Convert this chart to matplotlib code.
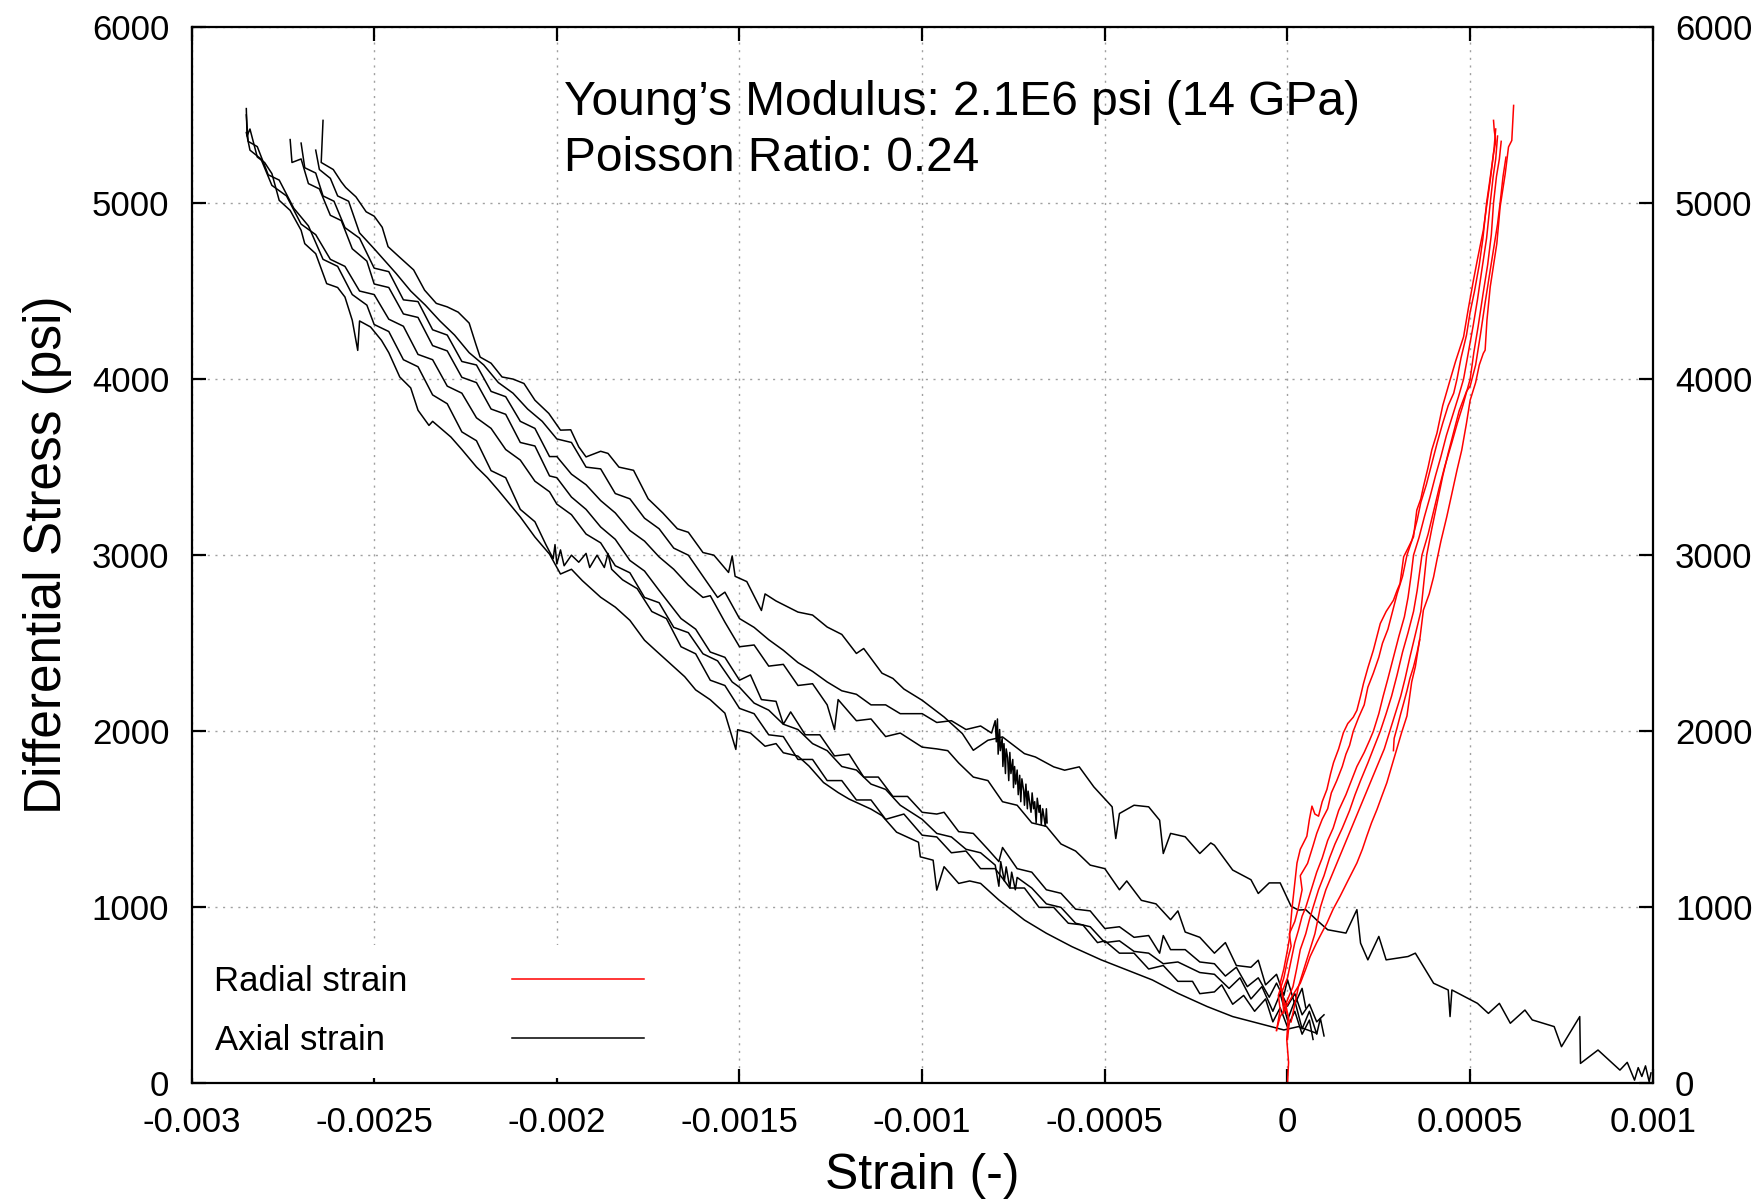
import numpy as np
import matplotlib
matplotlib.use("Agg")
import matplotlib.pyplot as plt

# --- data (strain in microstrain, stress in psi) ---

# first loading / long axial curve
axial_c0_strain = [-2640, -2645, -2612, -2590, -2578, -2550, -2522, -2500, -2478, -2462, -2432, -2392, -2362, -2330,
                   -2300, -2270, -2240, -2222, -2210, -2180, -2150, -2120, -2090, -2060, -2022, -1990, -1962, -1940,
                   -1920, -1880, -1860, -1830, -1790, -1750, -1710, -1670, -1640, -1600, -1570, -1530, -1520, -1512,
                   -1480, -1440, -1430, -1400, -1340, -1300, -1260, -1220, -1180, -1160, -1110, -1080, -1050, -1000,
                   -940, -890, -860, -820, -780, -720, -690, -640, -610, -570, -530, -480, -470, -460, -420, -380,
                   -350, -340, -320, -280, -240, -210, -200, -150, -100, -80, -50, -20, 10, 30, 50, 80, 110, 160,
                   190, 200, 220, 250, 270, 330, 350, 400, 440, 445, 450, 520, 550, 580, 610, 650, 670, 730, 750,
                   800, 802, 850, 870, 910, 930, 950, 960, 970, 980, 990, 995]
axial_c0_stress = [5469, 5230, 5190, 5120, 5088, 5035, 4950, 4925, 4862, 4752, 4695, 4620, 4505, 4430,
                   4410, 4380, 4318, 4200, 4125, 4090, 4012, 4000, 3975, 3880, 3805, 3710, 3712, 3615,
                   3558, 3590, 3578, 3500, 3482, 3320, 3240, 3150, 3130, 3015, 3000, 2902, 2996, 2880,
                   2850, 2686, 2780, 2740, 2677, 2660, 2592, 2550, 2442, 2470, 2330, 2300, 2240, 2176,
                   2081, 1987, 1892, 1949, 1968, 1873, 1854, 1798, 1779, 1798, 1684, 1571, 1391, 1533, 1580, 1571,
                   1495, 1306, 1420, 1401, 1306, 1366, 1353, 1212, 1157, 1079, 1139, 1139, 1006, 985, 987, 928, 873, 854,
                   987, 797, 702, 835, 702, 721, 740, 569, 531, 380, 531, 455, 398, 455, 342, 417, 361, 323, 209,
                   380, 114, 190, 152, 76, 120, 19, 90, 40, 100, 10, 60]

# cycle 1 (ends in the noisy patch near -0.0008)
axial_b1_strain = [-2660, -2650, -2620, -2600, -2570, -2540, -2500, -2470, -2440, -2400, -2360, -2320, -2280, -2240,
                   -2200, -2160, -2120, -2080, -2040, -2000, -1960, -1920, -1880, -1840, -1800, -1760, -1720, -1680,
                   -1640, -1600, -1560, -1540, -1500, -1460, -1420, -1380, -1340, -1300, -1260, -1220, -1180, -1140,
                   -1100, -1060, -1000, -960, -920, -880, -840, -810,
                   -800, -797, -794, -792, -788, -786, -781, -779, -776, -772, -770, -766, -763, -760, -757, -752,
                   -750, -747, -744, -740, -737, -733, -730, -727, -722, -720, -716, -712, -710, -706, -702, -699,
                   -695, -692, -688, -685, -680, -677, -674, -670, -667, -663, -660, -658]
axial_b1_stress = [5300, 5190, 5140, 5040, 5010, 4830, 4740, 4670, 4600, 4500, 4420, 4330, 4250, 4150,
                   4080, 3980, 3920, 3830, 3760, 3660, 3640, 3500, 3490, 3350, 3320, 3210, 3150, 3040,
                   3000, 2880, 2760, 2790, 2640, 2590, 2520, 2460, 2390, 2340, 2280, 2230, 2210, 2150,
                   2150, 2100, 2100, 2050, 2060, 2010, 2030, 1990,
                   2060, 1940, 2070, 1870, 2010, 1890, 1960, 1800, 1930, 1760, 1900, 1850, 1720, 1880, 1760, 1840,
                   1680, 1800, 1700, 1780, 1640, 1750, 1600, 1730, 1660, 1580, 1700, 1560, 1660, 1600, 1540, 1650,
                   1560, 1600, 1480, 1620, 1540, 1580, 1470, 1560, 1520, 1460, 1560, 1480]

axial_b2_strain = [-2700, -2690, -2660, -2640, -2610, -2580, -2540, -2500, -2460, -2420, -2380, -2340, -2300, -2260,
                   -2220, -2180, -2140, -2100, -2060, -2020, -2000, -1960, -1920, -1880, -1840, -1800, -1760, -1720,
                   -1680, -1640, -1600, -1580, -1540, -1500, -1460, -1420, -1380, -1340, -1300, -1260, -1240, -1230,
                   -1180, -1140, -1100, -1060, -1000, -960, -930, -900, -860, -820, -780, -740, -700, -660, -620,
                   -580, -540, -500, -460, -440, -400, -360, -320, -300, -280, -240, -200, -170, -140, -100, -80,
                   -60, -30, -10, 0, 20, 40, 50]
axial_b2_stress = [5340, 5200, 5170, 5040, 5010, 4860, 4800, 4630, 4610, 4450, 4440, 4280, 4250, 4100,
                   4080, 3930, 3900, 3760, 3720, 3560, 3560, 3460, 3400, 3310, 3240, 3140, 3080, 2990,
                   2920, 2830, 2760, 2770, 2620, 2480, 2490, 2370, 2380, 2260, 2270, 2150, 2010, 2180,
                   2060, 2070, 1970, 1990, 1910, 1900, 1890, 1820, 1740, 1720, 1600, 1580, 1480, 1460, 1360,
                   1320, 1240, 1220, 1100, 1150, 1040, 1020, 930, 980, 860, 830, 740, 800, 670, 660, 700,
                   560, 620, 500, 590, 450, 540, 430]

axial_b3_strain = [-2730, -2725, -2700, -2680, -2650, -2620, -2590, -2560, -2520, -2500, -2460, -2420, -2380, -2340,
                   -2300, -2260, -2220, -2180, -2140, -2100, -2060, -2020, -2000, -1960, -1920, -1880, -1840, -1800,
                   -1760, -1720, -1690, -1660, -1620, -1580, -1540, -1500, -1470, -1440, -1400, -1380, -1360, -1320,
                   -1280, -1240, -1200, -1160, -1120, -1080, -1040, -1000, -960, -940, -900, -860, -820, -790, -780,
                   -740, -700, -660, -620, -580, -540, -500, -460, -420, -380, -350, -340, -320, -280, -240, -200,
                   -170, -140, -110, -80, -50, -30, 0, 20, 40, 60, 80, 100]
axial_b3_stress = [5360, 5230, 5250, 5110, 5080, 4930, 4900, 4740, 4670, 4540, 4520, 4370, 4350, 4190,
                   4160, 4010, 3980, 3830, 3800, 3640, 3620, 3450, 3440, 3330, 3260, 3160, 3090, 2970,
                   2910, 2800, 2720, 2640, 2580, 2450, 2420, 2290, 2320, 2180, 2170, 2040, 2110, 1980,
                   1980, 1860, 1870, 1740, 1740, 1630, 1630, 1540, 1530, 1540, 1430, 1420, 1330, 1260, 1340,
                   1220, 1200, 1100, 1080, 990, 980, 880, 890, 830, 840, 740, 840, 760, 760, 690, 680,
                   610, 660, 550, 600, 490, 570, 440, 510, 390, 450, 350, 390]

axial_b4_strain = [-2850, -2840, -2810, -2780, -2740, -2700, -2660, -2620, -2580, -2540, -2500, -2460, -2420, -2380,
                   -2340, -2300, -2260, -2220, -2180, -2140, -2100, -2060, -2020, -2000, -1960, -1920, -1880, -1840,
                   -1800, -1760, -1720, -1680, -1640, -1600, -1560, -1520, -1500, -1460, -1420, -1380, -1340, -1300,
                   -1260, -1220, -1180, -1140, -1100, -1060, -1000, -960, -920, -880, -840, -800, -790, -785, -775,
                   -770, -760, -755, -745, -740, -700, -660, -620, -580, -540, -500, -460, -420, -380, -340, -300,
                   -240, -200, -160, -130, -100, -70, -40, -20, 0, 20, 40, 60, 80, 90, 100]
axial_b4_stress = [5400, 5300, 5250, 5100, 5040, 4880, 4820, 4680, 4640, 4500, 4480, 4340, 4300, 4140,
                   4110, 3960, 3920, 3780, 3720, 3600, 3540, 3420, 3360, 3290, 3230, 3120, 3070, 2940,
                   2900, 2760, 2730, 2590, 2560, 2440, 2400, 2280, 2250, 2160, 2120, 2040, 2010, 1930,
                   1890, 1800, 1780, 1700, 1670, 1580, 1500, 1420, 1400, 1330, 1310, 1240, 1120, 1260, 1150,
                   1230, 1110, 1200, 1100, 1170, 1110, 1020, 1000, 910, 890, 800, 810, 750, 740, 680, 690,
                   630, 620, 540, 600, 480, 550, 410, 510, 360, 470, 310, 410, 280, 370, 270]

axial_b5_strain = [-2850, -2845, -2820, -2790, -2760, -2720, -2680, -2640, -2600, -2560, -2520, -2500, -2460, -2420,
                   -2380, -2340, -2300, -2260, -2220, -2180, -2140, -2100, -2060, -2030, -2010, -2005, -2000, -1990,
                   -1980, -1960, -1940, -1920, -1910, -1890, -1870, -1860, -1850, -1820, -1780, -1740, -1700, -1660,
                   -1620, -1580, -1540, -1500, -1460, -1420, -1380, -1340, -1300, -1260, -1220, -1180, -1140, -1100,
                   -1050, -1000, -960, -920, -880, -840, -800, -760, -720, -680, -640, -600, -560, -520, -500, -460,
                   -420, -380, -340, -300, -260, -240, -200, -180, -150, -120, -90, -60, -40, -20, 0, 20, 40, 60, 70]
axial_b5_stress = [5500, 5350, 5320, 5160, 5130, 4970, 4870, 4680, 4640, 4480, 4420, 4310, 4270, 4110,
                   4070, 3910, 3860, 3700, 3650, 3480, 3440, 3260, 3190, 3060, 2980, 3060, 2950, 3030,
                   2940, 3000, 2960, 3010, 2930, 3000, 2930, 3010, 2920, 2860, 2810, 2680, 2640, 2480,
                   2440, 2290, 2260, 2130, 2100, 1980, 1970, 1840, 1840, 1720, 1720, 1610, 1610, 1500,
                   1530, 1410, 1400, 1310, 1320, 1220, 1220, 1110, 1110, 1000, 1000, 910, 900, 800, 810, 740,
                   740, 650, 670, 580, 580, 510, 520, 560, 450, 500, 410, 480, 350, 430, 320, 410, 280, 360, 250]

axial_b6_strain = [-2850, -2848, -2840, -2820, -2800, -2780, -2760, -2730, -2700, -2690, -2660, -2630, -2600, -2580,
                   -2560, -2545, -2540, -2510, -2480, -2460, -2430, -2400, -2380, -2350, -2340, -2290, -2260, -2220,
                   -2190, -2160, -2100, -2060, -2020, -1990, -1960, -1930, -1880, -1840, -1800, -1760, -1730, -1690,
                   -1650, -1620, -1580, -1540, -1510, -1505, -1470, -1430, -1400, -1380, -1340, -1310, -1270, -1230,
                   -1200, -1140, -1110, -1070, -1010, -1005, -970, -960, -940, -900, -870, -840, -790, -720, -660,
                   -590, -510, -440, -370, -300, -220, -150, -80, -10, 30, 80]
axial_b6_stress = [5536, 5380, 5420, 5261, 5230, 5167, 5015, 4958, 4845, 4769, 4712, 4542, 4520, 4466,
                   4334, 4163, 4330, 4296, 4220, 4150, 4012, 3950, 3823, 3737, 3760, 3671, 3600, 3501,
                   3440, 3368, 3217, 3103, 3006, 2893, 2920, 2855, 2761, 2705, 2630, 2517, 2460, 2385,
                   2310, 2235, 2179, 2103, 1897, 2009, 1990, 1915, 1930, 1878, 1859, 1803, 1709, 1652,
                   1615, 1558, 1521, 1427, 1370, 1287, 1268, 1098, 1231, 1136, 1150, 1136, 1042, 928, 853,
                   777, 702, 645, 588, 512, 437, 380, 342, 304, 323, 285]

# radial strain curves
radial_r1_strain = [0, 3, -2, 2, -5, -20, -10, 0, 5, 12, 18, 26, 35, 53, 60, 67, 75, 85, 95, 108, 118, 126, 140, 153,
                    165, 180, 190, 200, 208, 220, 235, 245, 254, 270, 290, 300, 308, 318, 330, 345, 354, 365, 372,
                    385, 395, 409, 425, 445, 460, 482, 495, 509, 520, 536, 545, 555, 564, 570, 566, 564]
radial_r1_stress = [0, 120, 250, 380, 420, 569, 650, 759, 820, 987, 1100, 1252, 1330, 1404, 1500, 1575, 1530, 1518,
                    1600, 1670, 1760, 1822, 1900, 1992, 2044, 2080, 2119, 2200, 2271, 2360, 2460, 2540, 2612, 2680,
                    2744, 2800, 2839, 2991, 3040, 3104, 3256, 3320, 3388, 3500, 3597, 3692, 3850, 3994, 4100, 4240,
                    4400, 4561, 4680, 4845, 4980, 5129, 5280, 5350, 5412, 5469]

radial_r2_strain = [-30, -20, -25, -10, 0, 10, 5, 20, 30, 40, 35, 55, 70, 80, 95, 110, 120, 135, 150, 160, 170, 180,
                    195, 210, 220, 235, 250, 260, 275, 290, 300, 315, 327, 340, 355, 365, 380, 395, 410, 425, 440,
                    455, 464, 475, 490, 500, 512, 525, 535, 545, 552, 560, 565, 570]
radial_r2_stress = [300, 420, 500, 600, 700, 780, 850, 920, 1000, 1100, 1180, 1250, 1350, 1420, 1500, 1560, 1650,
                    1720, 1800, 1870, 1920, 2000, 2080, 2150, 2250, 2330, 2420, 2500, 2580, 2700, 2780, 2880, 3000,
                    3080, 3200, 3300, 3400, 3520, 3640, 3750, 3850, 3920, 4000, 4120, 4250, 4380, 4500, 4650, 4800,
                    5000, 5100, 5220, 5300, 5420]

radial_r3_strain = [-10, -15, 0, 10, 20, 30, 40, 50, 65, 80, 95, 110, 125, 140, 160, 175, 190, 210, 225, 235, 250,
                    262, 275, 290, 305, 320, 330, 338, 345, 360, 375, 390, 405, 420, 435, 450, 468, 482, 495, 508,
                    520, 532, 545, 555, 563, 570, 575]
radial_r3_stress = [400, 520, 600, 700, 800, 870, 950, 1000, 1100, 1200, 1280, 1380, 1450, 1550, 1640, 1720, 1800,
                    1880, 1950, 2000, 2100, 2200, 2300, 2420, 2540, 2650, 2760, 2880, 3000, 3100, 3220, 3330, 3450,
                    3560, 3680, 3780, 3900, 4000, 4150, 4300, 4450, 4620, 4800, 5000, 5150, 5250, 5380]

radial_r4_strain = [0, 5, -5, 15, 25, 35, 50, 60, 70, 85, 100, 115, 130, 150, 170, 185, 200, 220, 235, 254, 270,
                    285, 300, 315, 330, 345, 355, 368, 385, 400, 415, 430, 450, 465, 480, 500, 510, 522, 535, 548,
                    558, 564, 572, 580, 585]
radial_r4_stress = [250, 350, 450, 550, 650, 760, 850, 930, 1000, 1100, 1180, 1280, 1360, 1450, 1550, 1640, 1720,
                    1820, 1900, 2000, 2100, 2200, 2320, 2450, 2560, 2680, 2800, 3000, 3120, 3250, 3380, 3500, 3640,
                    3750, 3850, 4000, 4150, 4300, 4480, 4650, 4820, 5000, 5150, 5250, 5350]

radial_r5_strain = [10, 20, 30, 45, 60, 75, 90, 105, 125, 145, 165, 185, 205, 225, 245, 265, 280, 295, 310, 322,
                    335, 350, 365, 381, 395, 410, 425, 440, 455, 470, 490, 500, 515, 528, 540, 552, 565, 575, 582,
                    590, 598]
radial_r5_stress = [350, 450, 550, 650, 750, 850, 1000, 1100, 1200, 1300, 1400, 1500, 1600, 1700, 1800, 1900, 2000,
                    2100, 2200, 2300, 2420, 2550, 2680, 3000, 3150, 3300, 3450, 3580, 3700, 3820, 3930, 3960, 4080,
                    4250, 4420, 4580, 4750, 4880, 5000, 5150, 5260]

radial_r6_strain = [-30, -20, 7, 20, 35, 50, 62, 80, 95, 108, 125, 144, 165, 190, 205, 217, 230, 245, 258, 272,
                    285, 299, 312, 327, 340, 350, 363, 372, 388, 400, 409, 420, 436, 450, 464, 477, 490, 500, 515,
                    525, 536, 541, 546, 555, 573, 582, 596, 605, 614, 619]
radial_r6_stress = [304, 380, 474, 520, 569, 650, 721, 800, 860, 911, 990, 1063, 1150, 1252, 1330, 1404, 1480, 1556,
                    1630, 1708, 1800, 1898, 1990, 2087, 2280, 2367, 2536, 2688, 2780, 2877, 2972, 3080, 3218, 3350,
                    3483, 3597, 3750, 3880, 3980, 4080, 4146, 4164, 4335, 4524, 4769, 4977, 5166, 5318, 5355, 5554]

radial_r7_strain = [290, 292, 300, 310, 318, 327, 335, 345, 355, 362]
radial_r7_stress = [1890, 1960, 2020, 2100, 2160, 2230, 2300, 2366, 2450, 2520]

axial_curves = [
    (axial_c0_strain, axial_c0_stress),
    (axial_b1_strain, axial_b1_stress),
    (axial_b2_strain, axial_b2_stress),
    (axial_b3_strain, axial_b3_stress),
    (axial_b4_strain, axial_b4_stress),
    (axial_b5_strain, axial_b5_stress),
    (axial_b6_strain, axial_b6_stress),
]
radial_curves = [
    (radial_r1_strain, radial_r1_stress),
    (radial_r2_strain, radial_r2_stress),
    (radial_r3_strain, radial_r3_stress),
    (radial_r4_strain, radial_r4_stress),
    (radial_r5_strain, radial_r5_stress),
    (radial_r6_strain, radial_r6_stress),
    (radial_r7_strain, radial_r7_stress),
]

x_ticks = [-0.003, -0.0025, -0.002, -0.0015, -0.001, -0.0005, 0, 0.0005, 0.001]
x_tick_labels = ["-0.003", "-0.0025", "-0.002", "-0.0015", "-0.001", "-0.0005", "0", "0.0005", "0.001"]
y_ticks = [0, 1000, 2000, 3000, 4000, 5000, 6000]

annotation = "Young\u2019s Modulus: 2.1E6 psi (14 GPa)\nPoisson Ratio: 0.24"

# --- plot ---
plt.rcParams['font.family'] = ['Liberation Sans', 'DejaVu Sans']

fig = plt.figure(figsize=(17.57, 12), dpi=100)
ax = fig.add_axes([0.109, 0.0971, 0.9407 - 0.109, 0.9776 - 0.0971])

# grid drawn underneath everything (legend box covers it)
ax.vlines(x_ticks, 0, 6000, colors='#a0a0a0', linestyles=(0, (1.5, 4)), linewidth=1.0, zorder=0.5)
ax.hlines(y_ticks, -0.003, 0.001, colors='#a0a0a0', linestyles=(0, (1.5, 4)), linewidth=1.0, zorder=0.5)

for i, (s, p) in enumerate(axial_curves):
    ax.plot(np.array(s) * 1e-6, p, color='black', lw=1.1, zorder=2,
            label='Axial strain  \u200a' if i == 0 else None)
for i, (s, p) in enumerate(radial_curves):
    ax.plot(np.array(s) * 1e-6, p, color='#ff0000', lw=1.1, zorder=2.1,
            label='Radial strain' if i == 0 else None)

ax.set_xlim(-0.003, 0.001)
ax.set_ylim(0, 6000)
ax.set_xticks(x_ticks)
ax.set_xticklabels(x_tick_labels)
ax.set_yticks(y_ticks)

ax.tick_params(direction='in', length=10, width=1.6, labelsize=25, pad=16,
               top=True, right=True, labelright=True)
for sp in ax.spines.values():
    sp.set_linewidth(1.6)

ax.set_xlabel('Strain (-)', fontsize=36, labelpad=10)
ax.set_ylabel('Differential Stress (psi)', fontsize=37, labelpad=14)

ax.text(0.2546, 0.9496, annotation, transform=ax.transAxes, fontsize=34.5,
        va='top', ha='left', linespacing=1.31)

handles, labels = ax.get_legend_handles_labels()
order = [1, 0]
leg = ax.legend([handles[k] for k in order], [labels[k] for k in order],
                loc='lower left', bbox_to_anchor=(-0.0025, 0.0), borderaxespad=0.15,
                markerfirst=False, fontsize=25, handlelength=3.8, handletextpad=3.03,
                labelspacing=0.75, borderpad=0.6, frameon=True, fancybox=False)
leg.get_frame().set_facecolor('white')
leg.get_frame().set_edgecolor('none')
leg.get_frame().set_alpha(1.0)
leg.set_zorder(2.3)

fig.savefig('out.png', dpi=100)
